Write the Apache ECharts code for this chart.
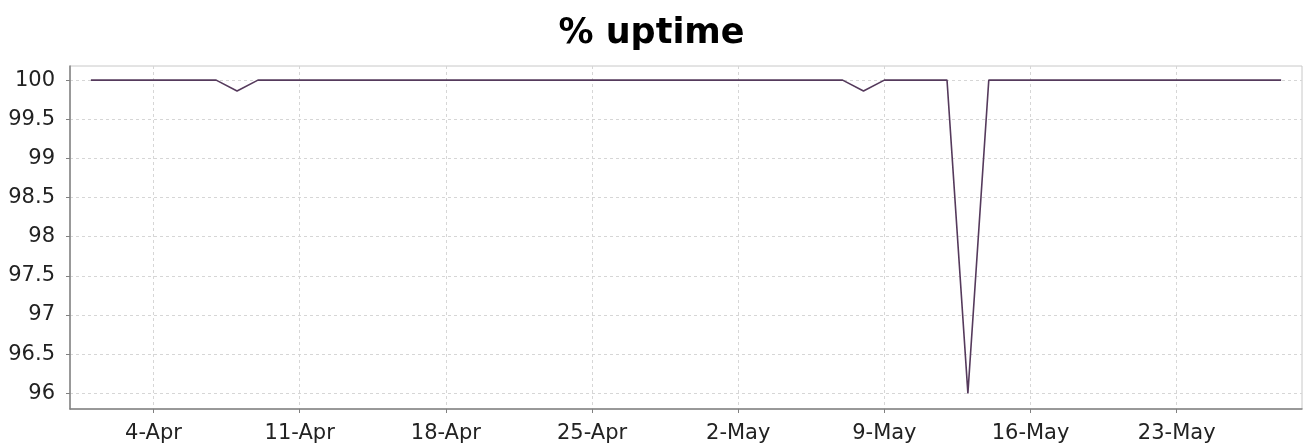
<!DOCTYPE html>
<html>
<head>
<meta charset="utf-8">
<script src="https://cdn.jsdelivr.net/npm/echarts@6/dist/echarts.min.js"></script>
<style>
html,body{margin:0;padding:0;background:#fff;}
#chart{width:1303px;height:444px;}
</style>
</head>
<body>
<div id="chart"></div>
<script>
// Daily categories (31-Mar .. 29-May); the ends are axis padding with no data
var categories = ['31-Mar',
  '1-Apr','2-Apr','3-Apr','4-Apr','5-Apr','6-Apr','7-Apr','8-Apr','9-Apr','10-Apr',
  '11-Apr','12-Apr','13-Apr','14-Apr','15-Apr','16-Apr','17-Apr','18-Apr','19-Apr','20-Apr',
  '21-Apr','22-Apr','23-Apr','24-Apr','25-Apr','26-Apr','27-Apr','28-Apr','29-Apr','30-Apr',
  '1-May','2-May','3-May','4-May','5-May','6-May','7-May','8-May','9-May','10-May',
  '11-May','12-May','13-May','14-May','15-May','16-May','17-May','18-May','19-May','20-May',
  '21-May','22-May','23-May','24-May','25-May','26-May','27-May','28-May',
  '29-May'];
var uptime = [null,
  100,100,100,100,100,100,100,99.86,100,100,
  100,100,100,100,100,100,100,100,100,100,
  100,100,100,100,100,100,100,100,100,100,
  100,100,100,100,100,100,100,99.86,100,100,
  100,100,96.0,100,100,100,100,100,100,100,
  100,100,100,100,100,100,100,100,
  null];
var xTickLabels = ['4-Apr','11-Apr','18-Apr','25-Apr','2-May','9-May','16-May','23-May'];
var yTickValues = [96, 96.5, 97, 97.5, 98, 98.5, 99, 99.5, 100];

var showX = function (idx, val) { return xTickLabels.indexOf(categories[idx]) >= 0; };

var chart = echarts.init(document.getElementById('chart'));
chart.setOption({
  animation: false,
  backgroundColor: '#ffffff',
  title: {
    text: '% uptime',
    left: 'center',
    top: 11,
    textStyle: { fontFamily: 'DejaVu Sans', fontWeight: 'bold', fontSize: 35, color: '#000' }
  },
  grid: {
    left: 70, right: 1, top: 66, bottom: 35,
    show: true, borderColor: '#c8c8c8', borderWidth: 1, backgroundColor: '#fff'
  },
  xAxis: {
    type: 'category',
    data: categories,
    boundaryGap: false,
    axisLine: { lineStyle: { color: '#808080', width: 1.5 } },
    axisTick: { show: true, interval: showX, length: 4, inside: false, lineStyle: { color: '#808080' } },
    axisLabel: { interval: showX, fontFamily: 'DejaVu Sans', fontSize: 21, color: '#222', margin: 14 },
    splitLine: { show: true, interval: showX, lineStyle: { color: '#d6d6d6', type: [3, 3], width: 1 } }
  },
  yAxis: {
    type: 'value',
    min: 95.8,
    max: 100.18,
    axisLine: { show: true, lineStyle: { color: '#808080', width: 1.5 } },
    axisTick: { show: true, length: 4, customValues: yTickValues, lineStyle: { color: '#808080' } },
    axisLabel: { customValues: yTickValues, fontFamily: 'DejaVu Sans', fontSize: 21, color: '#222', margin: 15 },
    splitLine: { show: true, lineStyle: { color: '#d6d6d6', type: [3, 3], width: 1 } }
  },
  series: [{
    type: 'line',
    data: uptime,
    showSymbol: false,
    symbol: 'none',
    connectNulls: false,
    lineStyle: { color: '#553a5c', width: 1.6 }
  }]
});
</script>
</body>
</html>
